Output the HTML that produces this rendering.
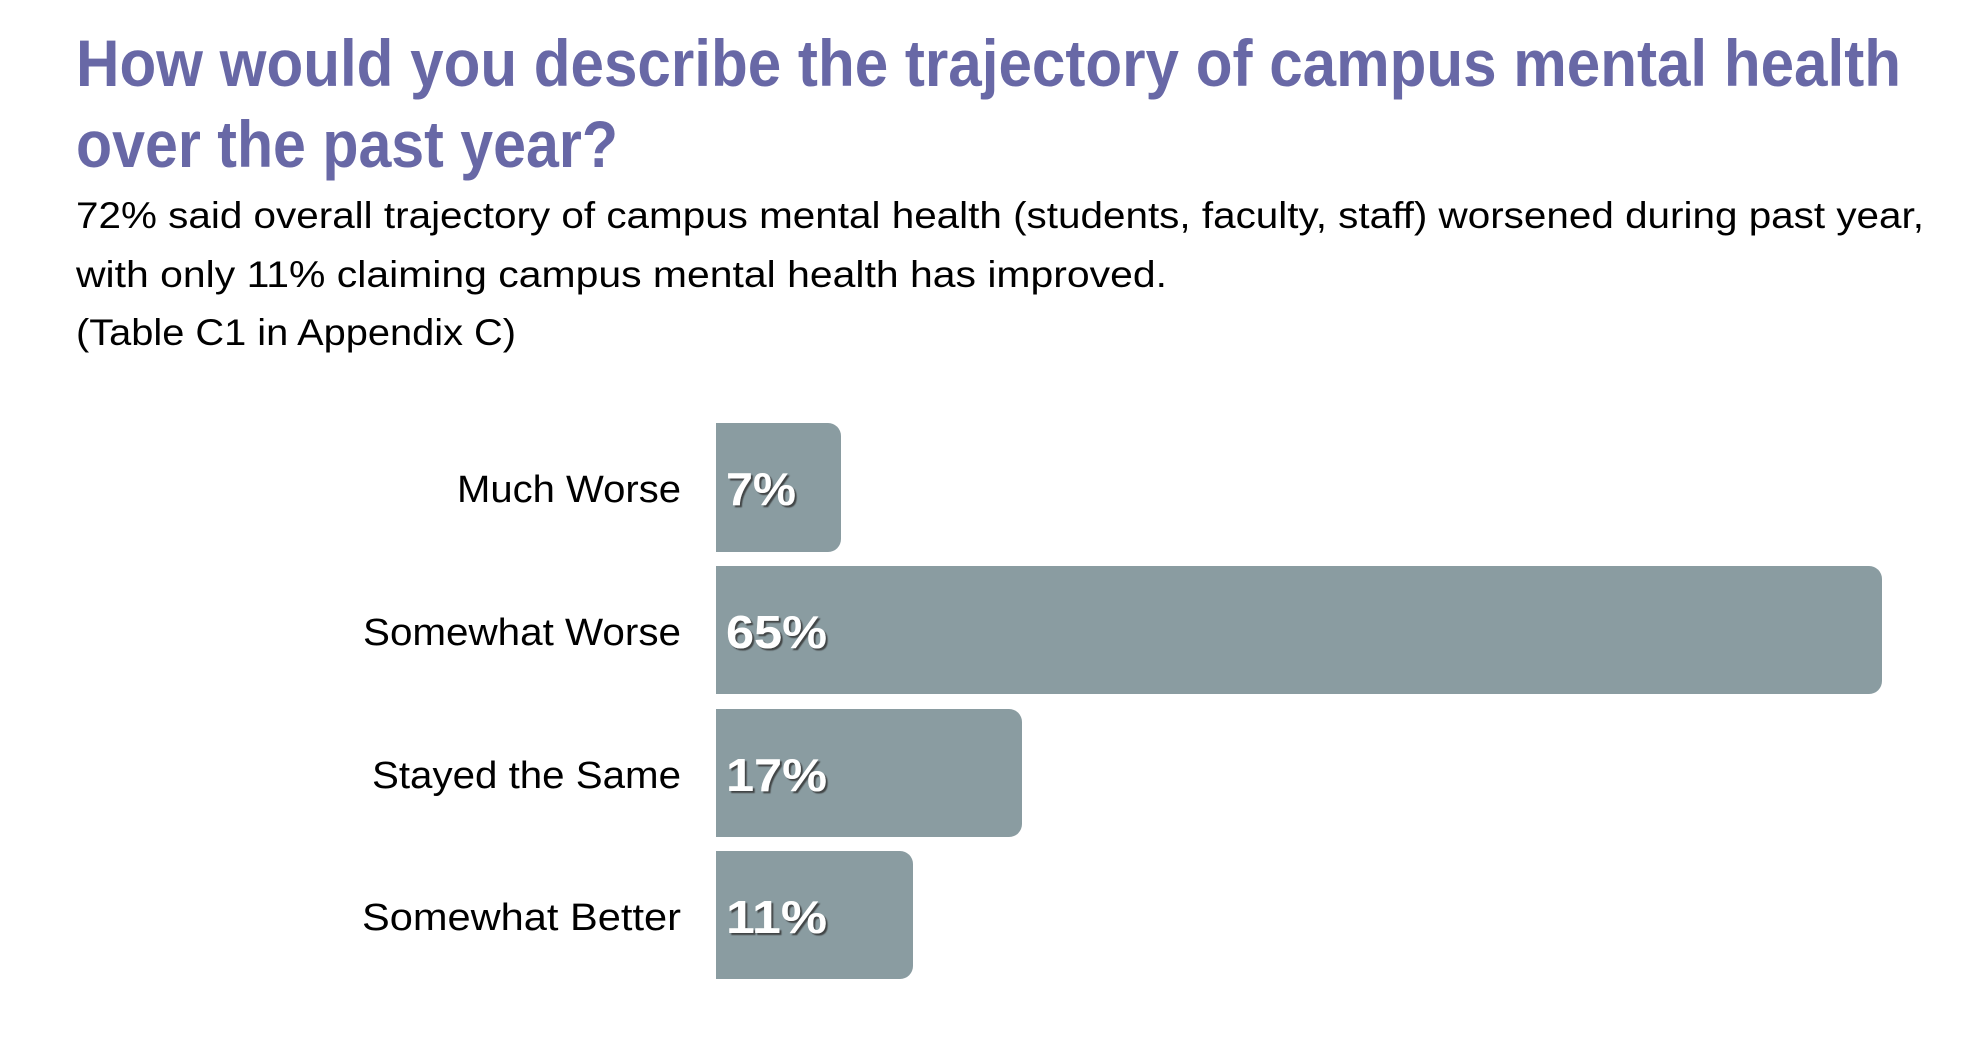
<!DOCTYPE html>
<html><head><meta charset="utf-8"><style>
html,body{margin:0;padding:0;background:#fff;}
svg{display:block;}
</style></head><body>
<svg width="1988" height="1038" viewBox="0 0 1988 1038" xmlns="http://www.w3.org/2000/svg">
<defs>
<filter id="sh" x="-10%" y="-10%" width="130%" height="130%"><feDropShadow dx="2" dy="2" stdDeviation="0.6" flood-color="#333" flood-opacity="0.8"/></filter>
</defs>
<g font-family="Liberation Sans, sans-serif" font-weight="bold" fill="#6868a6" font-size="66">
<text x="76" y="86" textLength="1825" lengthAdjust="spacingAndGlyphs">How would you describe the trajectory of campus mental health</text>
<text x="76" y="167" textLength="542" lengthAdjust="spacingAndGlyphs">over the past year?</text>
</g>
<g font-family="Liberation Sans, sans-serif" fill="#000" font-size="37">
<text x="76" y="228" textLength="1848" lengthAdjust="spacingAndGlyphs">72% said overall trajectory of campus mental health (students, faculty, staff) worsened during past year,</text>
<text x="76" y="287" textLength="1091" lengthAdjust="spacingAndGlyphs">with only 11% claiming campus mental health has improved.</text>
<text x="76" y="345" textLength="440" lengthAdjust="spacingAndGlyphs">(Table C1 in Appendix C)</text>
</g>
<g fill="#8a9ca1">
<path d="M716 423 H828 A13 13 0 0 1 841 436 V539 A13 13 0 0 1 828 552 H716 Z"/>
<path d="M716 566 H1869 A13 13 0 0 1 1882 579 V681 A13 13 0 0 1 1869 694 H716 Z"/>
<path d="M716 709 H1009 A13 13 0 0 1 1022 722 V824 A13 13 0 0 1 1009 837 H716 Z"/>
<path d="M716 851 H900 A13 13 0 0 1 913 864 V966 A13 13 0 0 1 900 979 H716 Z"/>
</g>
<g font-family="Liberation Sans, sans-serif" fill="#000" font-size="38" text-anchor="end">
<text x="681" y="502" textLength="224" lengthAdjust="spacingAndGlyphs">Much Worse</text>
<text x="681" y="645" textLength="318" lengthAdjust="spacingAndGlyphs">Somewhat Worse</text>
<text x="681" y="788" textLength="309" lengthAdjust="spacingAndGlyphs">Stayed the Same</text>
<text x="681" y="930" textLength="319" lengthAdjust="spacingAndGlyphs">Somewhat Better</text>
</g>
<g font-family="Liberation Sans, sans-serif" font-weight="bold" fill="#fff" font-size="46" filter="url(#sh)">
<text x="726" y="505" textLength="70" lengthAdjust="spacingAndGlyphs">7%</text>
<text x="726" y="648" textLength="101" lengthAdjust="spacingAndGlyphs">65%</text>
<text x="726" y="791" textLength="101" lengthAdjust="spacingAndGlyphs">17%</text>
<text x="726" y="933" textLength="101" lengthAdjust="spacingAndGlyphs">11%</text>
</g>
</svg>
</body></html>
